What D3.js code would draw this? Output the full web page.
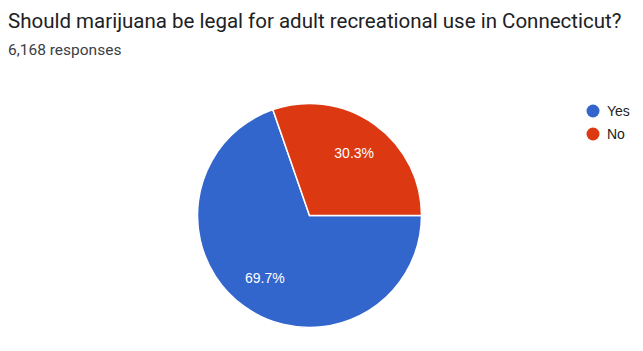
<!DOCTYPE html>
<html>
<head>
<meta charset="utf-8">
<script src="https://cdn.jsdelivr.net/npm/d3@7"></script>
<style>
  body { margin: 0; background: #fff; }
  svg { display: block; font-family: Roboto, Arial, sans-serif; }
</style>
</head>
<body>
<svg width="643" height="351"></svg>
<script>
// dati
var categorie = ["Yes", "No"];
var percentuali = [69.7, 30.3];
var colori = ["#3366cc", "#dc3912"];
var titolo = "Should marijuana be legal for adult recreational use in Connecticut?";
var risposte = "6,168 responses";

const svg = d3.select("svg");

svg.append("text")
    .attr("x", 8)
    .attr("y", 28)
    .attr("font-size", 20.5)
    .attr("fill", "#202124")
    .text(titolo);

svg.append("text")
    .attr("x", 8)
    .attr("y", 55)
    .attr("font-size", 15.5)
    .attr("fill", "#3c4043")
    .text(risposte);

// torta
const cx = 309.5, cy = 215.5, raggio = 112;
const dati = categorie.map((c, i) => ({ nome: c, valore: percentuali[i], colore: colori[i] }));

const pie = d3.pie()
    .value(d => d.valore)
    .sort(null)
    .startAngle(Math.PI / 2)
    .endAngle(Math.PI / 2 + 2 * Math.PI);

const arco = d3.arc().innerRadius(0).outerRadius(raggio);
const arcoEtichette = d3.arc().innerRadius(77).outerRadius(77);

const g = svg.append("g").attr("transform", "translate(" + cx + "," + cy + ")");

g.selectAll("path")
    .data(pie(dati))
    .join("path")
    .attr("d", arco)
    .attr("fill", d => d.data.colore)
    .attr("stroke", "#fff")
    .attr("stroke-width", 1.5);

g.selectAll("text")
    .data(pie(dati))
    .join("text")
    .attr("transform", d => "translate(" + arcoEtichette.centroid(d) + ")")
    .attr("text-anchor", "middle")
    .attr("dy", "0.35em")
    .attr("font-family", "Arial, 'Liberation Sans', sans-serif")
    .attr("font-size", 14)
    .attr("fill", "#fff")
    .text(d => d.data.valore.toFixed(1) + "%");

// legenda
const legenda = svg.append("g").attr("transform", "translate(593,111)");
const voci = legenda.selectAll("g")
    .data(dati)
    .join("g")
    .attr("transform", (d, i) => "translate(0," + (i * 23) + ")");

voci.append("circle")
    .attr("r", 6.5)
    .attr("fill", d => d.colore);

voci.append("text")
    .attr("x", 14)
    .attr("dy", "0.36em")
    .attr("font-family", "Arial, 'Liberation Sans', sans-serif")
    .attr("font-size", 14)
    .attr("fill", "#222")
    .text(d => d.nome);
</script>
</body>
</html>
